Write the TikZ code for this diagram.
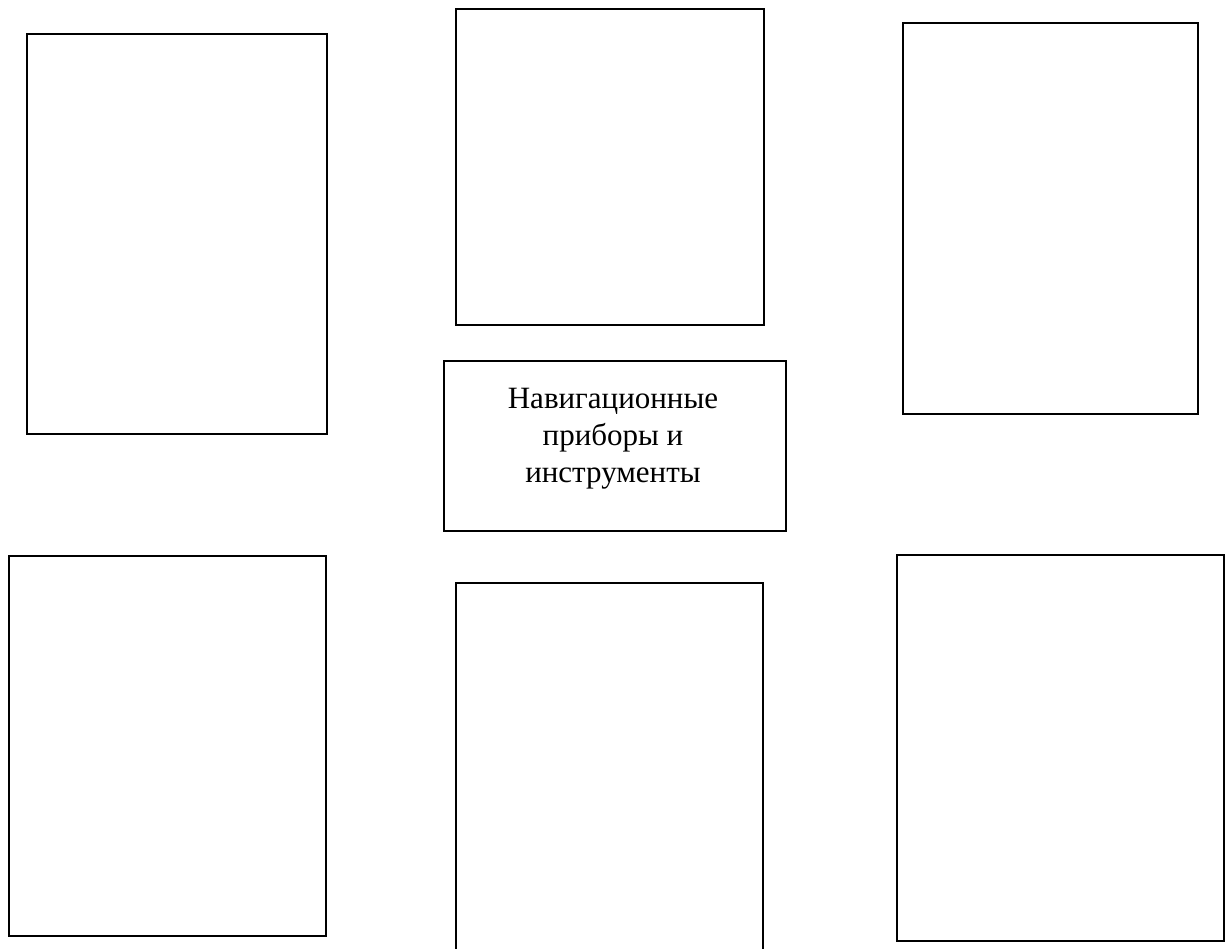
\documentclass[tikz,border=0pt]{standalone}
\usepackage{fontspec}
\setmainfont{Liberation Serif}
\begin{document}
\begin{tikzpicture}[x=1pt,y=-1pt,
  panel/.style={draw=black,line width=2.4pt,inner sep=0pt,anchor=north west},
  label/.style={align=center,font=\fontsize{31}{37}\selectfont}]
\useasboundingbox (0,0) rectangle (1226,948);
\node[panel,minimum width=300pt,minimum height=400pt] (b1) at (25.5,33) {};
\node[panel,minimum width=308pt,minimum height=316pt] (b2) at (454.5,7.5) {};
\node[panel,minimum width=295pt,minimum height=391pt] (b3) at (902,22) {};
\node[panel,minimum width=342pt,minimum height=170pt] (c) at (443,360) {};
\node[label] (t) at (613,439) {Навигационные\\приборы и\\инструменты};
\node[panel,minimum width=317.5pt,minimum height=380pt] (b5) at (7.5,555) {};
\node[panel,minimum width=307.5pt,minimum height=367pt] (b6) at (454.5,582) {};
\node[panel,minimum width=327pt,minimum height=386pt] (b7) at (896,554) {};
\end{tikzpicture}
\end{document}
